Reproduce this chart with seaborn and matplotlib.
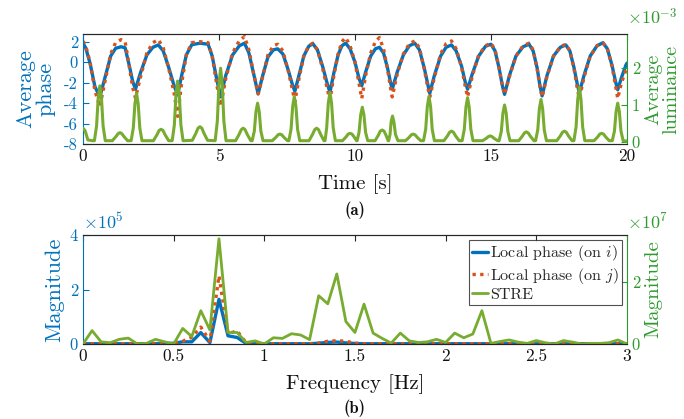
import matplotlib
matplotlib.use("Agg")
import matplotlib.pyplot as plt
import seaborn as sns

# ---------------- data ----------------
t_phase = [0.0, 0.1, 0.26, 0.44, 0.62, 0.8, 1.02, 1.2, 1.4, 1.55, 1.7, 1.83, 1.93,
           2.12, 2.35, 2.57, 2.77, 2.95, 3.15, 3.35, 3.48, 3.62, 3.8, 4.0, 4.3, 4.6,
           4.75, 4.92, 5.06, 5.25, 5.5, 5.75, 5.94, 6.1, 6.28, 6.44, 6.6, 6.8, 7.0, 7.16,
           7.35, 7.55, 7.7, 7.79, 7.95, 8.12, 8.3, 8.45, 8.62, 8.82, 8.98, 9.08,
           9.22, 9.38, 9.52, 9.66, 9.82, 10.0, 10.15, 10.25, 10.4, 10.58, 10.75, 10.9,
           11.05, 11.2, 11.3, 11.37, 11.55, 11.78, 12.0, 12.2, 12.37, 12.55, 12.68, 12.75,
           12.92, 13.15, 13.35, 13.55, 13.72, 13.92, 14.05, 14.14, 14.32, 14.55, 14.8, 15.0,
           15.15, 15.3, 15.42, 15.5, 15.68, 15.92, 16.18, 16.4, 16.55, 16.7, 16.8, 16.88,
           17.05, 17.3, 17.55, 17.75, 17.9, 18.05, 18.17, 18.25, 18.42, 18.65, 18.9, 19.12,
           19.28, 19.45, 19.58, 19.66, 19.8, 19.96, 20.0]

phase_i = [1.85, 1.4, -0.1, -2.4, -3.4, -1.6, 0.6, 1.35, 1.5, 1.4, -0.3, -1.9, -2.65,
           -1.0, 0.7, 1.45, 1.68, 1.1, -0.5, -2.3, -3.2, -1.4, 0.7, 1.7, 1.85, 1.75,
           0.6, -1.7, -3.4, -1.3, 0.7, 1.6, 1.85, 0.9, -1.2, -3.1, -1.4, 0.5, 1.2, 1.3,
           0.8, -0.8, -2.2, -2.85, -1.2, 0.6, 1.55, 1.8, 1.2, -0.5, -2.1, -2.95,
           -1.1, 0.7, 1.6, 1.85, 1.3, 0.0, -1.6, -2.3, -0.9, 0.6, 1.3, 1.45,
           0.9, -0.6, -1.9, -2.65, -1.0, 0.7, 1.6, 1.85, 1.2, -0.6, -2.2, -3.05,
           -1.3, 0.6, 1.45, 1.68, 1.1, -0.4, -1.9, -2.65, -1.1, 0.6, 1.55, 1.75,
           1.1, -0.6, -2.3, -3.15, -1.3, 0.6, 1.5, 1.75, 1.1, -0.6, -2.3, -3.3,
           -1.4, 0.6, 1.45, 1.68, 1.1, -0.5, -2.1, -3.0, -1.3, 0.6, 1.6, 1.9,
           1.3, -0.3, -1.9, -2.7, -1.5, -0.3, -0.1]

phase_j = [2.05, 1.6, 0.0, -2.8, -4.35, -2.0, 0.8, 1.9, 2.2, 2.0, -0.4, -2.5, -3.5,
           -1.4, 0.9, 1.9, 2.2, 1.4, -0.6, -3.0, -5.3, -2.2, 0.7, 1.9, 2.0, 1.9,
           0.6, -2.2, -4.3, -1.6, 0.9, 2.1, 2.5, 1.2, -1.2, -3.1, -1.5, 0.7, 1.6, 1.75,
           1.1, -0.9, -2.7, -3.85, -1.5, 0.6, 1.6, 1.85, 1.2, -0.7, -2.6, -3.7,
           -1.4, 0.8, 2.0, 2.4, 1.6, 0.0, -2.1, -3.55, -1.2, 0.9, 2.0, 2.4,
           1.3, -0.7, -2.4, -3.4, -1.2, 0.8, 1.8, 2.07, 1.4, -0.7, -2.5, -3.4,
           -1.5, 0.8, 1.8, 2.07, 1.3, -0.5, -2.3, -3.4, -1.3, 0.7, 1.6, 1.85,
           1.2, -0.6, -2.3, -3.15, -1.4, 0.6, 1.6, 1.85, 1.2, -0.7, -2.4, -3.4,
           -1.5, 0.6, 1.5, 1.75, 1.1, -0.6, -2.5, -3.55, -1.5, 0.6, 1.6, 1.85,
           1.3, -0.4, -2.3, -3.55, -2.0, -0.8, -0.5]

t_lum = [0.0, 0.08, 0.18, 0.35,
         0.42, 0.5, 0.56, 0.62, 0.68, 0.74, 0.82,
         1.08, 1.21, 1.29, 1.36, 1.43, 1.51, 1.64,
         1.77, 1.85, 1.91, 1.97, 2.03, 2.09, 2.17,
         2.59, 2.72, 2.8, 2.87, 2.94, 3.02, 3.15,
         3.28, 3.36, 3.42, 3.48, 3.54, 3.6, 3.68,
         4.02, 4.15, 4.23, 4.3, 4.37, 4.45, 4.58,
         4.86, 4.94, 5.0, 5.06, 5.12, 5.18, 5.26,
         5.61, 5.74, 5.82, 5.89, 5.96, 6.04, 6.17,
         6.22, 6.3, 6.36, 6.42, 6.48, 6.54, 6.62,
         6.96, 7.09, 7.17, 7.24, 7.31, 7.39, 7.52,
         7.57, 7.65, 7.71, 7.77, 7.83, 7.89, 7.97,
         8.31, 8.44, 8.52, 8.59, 8.66, 8.74, 8.86,
         8.9, 8.96, 9.02, 9.08, 9.14, 9.2, 9.28,
         9.54, 9.67, 9.75, 9.82, 9.89, 9.97, 10.06,
         10.08, 10.15, 10.21, 10.27, 10.33, 10.39, 10.47,
         10.74, 10.86, 10.93, 11.0, 11.07, 11.14, 11.22,
         11.24, 11.29, 11.33, 11.38, 11.43, 11.49, 11.58,
         11.86, 11.99, 12.07, 12.14, 12.21, 12.29, 12.42,
         12.52, 12.6, 12.66, 12.72, 12.78, 12.84, 12.92,
         13.27, 13.4, 13.48, 13.55, 13.62, 13.7, 13.83,
         13.94, 14.02, 14.08, 14.14, 14.2, 14.26, 14.34,
         14.69, 14.82, 14.9, 14.97, 15.04, 15.12, 15.25,
         15.3, 15.38, 15.44, 15.5, 15.56, 15.62, 15.7,
         16.02, 16.15, 16.23, 16.3, 16.37, 16.45, 16.58,
         16.64, 16.72, 16.78, 16.84, 16.9, 16.96, 17.04,
         17.42, 17.55, 17.63, 17.7, 17.77, 17.85, 17.98,
         18.05, 18.13, 18.19, 18.25, 18.31, 18.37, 18.45,
         18.79, 18.92, 19.0, 19.07, 19.14, 19.22, 19.35,
         19.46, 19.54, 19.6, 19.66, 19.72, 19.78, 19.86,
         20.0]

luminance_e3 = [0.37, 0.3, 0.05, 0.03,
                0.03, 0.43, 1.19, 1.52, 1.19, 0.43, 0.03,
                0.03, 0.14, 0.22, 0.25, 0.22, 0.14, 0.03,
                0.03, 0.37, 1.03, 1.32, 1.03, 0.37, 0.03,
                0.03, 0.19, 0.31, 0.34, 0.31, 0.19, 0.03,
                0.03, 0.46, 1.29, 1.65, 1.29, 0.46, 0.03,
                0.04, 0.23, 0.37, 0.41, 0.37, 0.23, 0.04,
                0.03, 0.56, 1.56, 2.0, 1.56, 0.56, 0.03,
                0.03, 0.2, 0.33, 0.37, 0.33, 0.2, 0.03,
                0.03, 0.29, 0.82, 1.05, 0.82, 0.29, 0.03,
                0.03, 0.12, 0.19, 0.21, 0.19, 0.12, 0.03,
                0.03, 0.34, 0.96, 1.23, 0.96, 0.34, 0.03,
                0.03, 0.2, 0.33, 0.37, 0.33, 0.2, 0.03,
                0.03, 0.38, 1.05, 1.34, 1.05, 0.38, 0.03,
                0.03, 0.13, 0.21, 0.23, 0.21, 0.13, 0.03,
                0.03, 0.26, 0.73, 0.94, 0.73, 0.26, 0.03,
                0.03, 0.18, 0.29, 0.32, 0.29, 0.18, 0.03,
                0.03, 0.2, 0.55, 0.7, 0.55, 0.2, 0.03,
                0.03, 0.12, 0.19, 0.21, 0.19, 0.12, 0.03,
                0.03, 0.34, 0.96, 1.23, 0.96, 0.34, 0.03,
                0.03, 0.16, 0.26, 0.29, 0.26, 0.16, 0.03,
                0.03, 0.34, 0.94, 1.2, 0.94, 0.34, 0.03,
                0.03, 0.09, 0.14, 0.16, 0.14, 0.09, 0.03,
                0.03, 0.28, 0.78, 1.0, 0.78, 0.28, 0.03,
                0.03, 0.15, 0.24, 0.27, 0.24, 0.15, 0.03,
                0.03, 0.32, 0.9, 1.15, 0.9, 0.32, 0.03,
                0.03, 0.16, 0.26, 0.29, 0.26, 0.16, 0.03,
                0.03, 0.41, 1.15, 1.48, 1.15, 0.41, 0.03,
                0.03, 0.13, 0.21, 0.23, 0.21, 0.13, 0.03,
                0.03, 0.29, 0.82, 1.05, 0.82, 0.29, 0.03,
                0.02]

freq = [0.0, 0.05, 0.1, 0.15, 0.2, 0.25, 0.3, 0.35, 0.4, 0.45, 0.5, 0.55, 0.6, 0.65,
        0.7, 0.75, 0.8, 0.85, 0.9, 0.95, 1.0, 1.05, 1.1, 1.15, 1.2, 1.25, 1.3, 1.35,
        1.4, 1.45, 1.5, 1.55, 1.6, 1.65, 1.7, 1.75, 1.8, 1.85, 1.9, 1.95, 2.0, 2.05,
        2.1, 2.15, 2.2, 2.25, 2.3, 2.35, 2.4, 2.45, 2.5, 2.55, 2.6, 2.65, 2.7, 2.75,
        2.8, 2.85, 2.9, 2.95, 3.0]

mag_i_e5 = [0.01, 0.01, 0.01, 0.01, 0.01, 0.01, 0.01, 0.01, 0.01, 0.01, 0.03, 0.08, 0.08, 0.42,
            0.05, 1.64, 0.3, 0.24, 0.02, 0.01, 0.01, 0.01, 0.01, 0.01, 0.01, 0.01, 0.03, 0.06,
            0.07, 0.04, 0.02, 0.01, 0.01, 0.01, 0.01, 0.01, 0.01, 0.01, 0.01, 0.01, 0.01, 0.01,
            0.01, 0.01, 0.01, 0.01, 0.01, 0.01, 0.01, 0.01, 0.01, 0.01, 0.01, 0.01, 0.01, 0.01,
            0.01, 0.01, 0.01, 0.01, 0.01]

mag_j_e5 = [0.01, 0.01, 0.01, 0.01, 0.01, 0.01, 0.01, 0.01, 0.01, 0.01, 0.03, 0.1, 0.25, 0.62,
            0.1, 2.5, 0.38, 0.48, 0.04, 0.01, 0.01, 0.01, 0.01, 0.01, 0.01, 0.01, 0.03, 0.1,
            0.12, 0.1, 0.03, 0.01, 0.01, 0.01, 0.01, 0.01, 0.01, 0.01, 0.01, 0.01, 0.01, 0.01,
            0.01, 0.01, 0.01, 0.01, 0.01, 0.01, 0.01, 0.01, 0.01, 0.01, 0.01, 0.01, 0.01, 0.01,
            0.01, 0.01, 0.01, 0.01, 0.01]

mag_stre_e7 = [0.0, 0.43, 0.07, 0.04, 0.15, 0.19, 0.0, 0.02, 0.15, 0.07, 0.0, 0.5, 0.24, 1.07,
               0.45, 3.38, 0.37, 0.37, 0.05, 0.1, 0.0, 0.2, 0.18, 0.33, 0.29, 0.14, 1.55, 1.29,
               2.25, 0.72, 0.37, 1.28, 0.35, 0.18, 0.03, 0.35, 0.1, 0.05, 0.07, 0.15, 0.05, 0.35,
               0.2, 0.32, 1.07, 0.02, 0.08, 0.13, 0.06, 0.02, 0.11, 0.04, 0.0, 0.11, 0.06, 0.0,
               0.02, 0.02, 0.04, 0.13, 0.0]

x_ticks_top = [0, 5, 10, 15, 20]
y_ticks_phase = [-8, -6, -4, -2, 0, 2]
y_ticks_lum = [0, 1, 2]
x_ticks_bottom = [0, 0.5, 1, 1.5, 2, 2.5, 3]
y_ticks_mag_left = [0, 2, 4]
y_ticks_mag_right = [0, 2]
legend_labels = [r"Local phase (on $i$)", r"Local phase (on $j$)", "STRE"]

# ---------------- style ----------------
sns.set_style("white")
plt.rcParams["font.family"] = ["cmr10", "DejaVu Serif"]
plt.rcParams["mathtext.fontset"] = "cm"
plt.rcParams["axes.formatter.use_mathtext"] = True
plt.rcParams["axes.unicode_minus"] = False

BLUE = "#0072BD"
ORANGE = "#D95319"
GREEN = "#77AC30"
AXGREEN = "#2E9A2E"
DARK = "#262626"

fig = plt.figure(figsize=(6.84, 4.19), dpi=100)
ax1 = fig.add_axes([0.1213, 0.6563, 0.7953, 0.2626])
ax3 = fig.add_axes([0.1213, 0.1790, 0.7953, 0.2601])


def style_pair(ax, axr):
    for a in (ax, axr):
        a.tick_params(direction="in", length=4, width=0.8, top=True)
        a.spines["top"].set_color(DARK)
        a.spines["bottom"].set_color(DARK)
        for s in a.spines.values():
            s.set_linewidth(0.8)
    ax.spines["right"].set_visible(False)
    axr.spines["left"].set_visible(False)
    ax.spines["left"].set_color(BLUE)
    axr.spines["right"].set_color(AXGREEN)
    ax.tick_params(axis="y", colors=BLUE, labelsize=12)
    axr.tick_params(axis="y", colors=AXGREEN, labelsize=12, right=True, left=False)
    ax.tick_params(axis="x", colors=DARK, labelcolor="#111111", labelsize=12.5)
    axr.tick_params(axis="x", top=False, bottom=False)


# ---------------- top panel ----------------
ax2 = ax1.twinx()
sns.lineplot(x=t_phase, y=phase_i, ax=ax1, color=BLUE, linewidth=2.4, sort=False)
sns.lineplot(x=t_phase, y=phase_j, ax=ax1, color=ORANGE, linewidth=2.4, sort=False)
ax1.lines[-1].set_dashes((1, 1.3))
ax1.lines[-1].set_dash_capstyle("butt")
sns.lineplot(x=t_lum, y=luminance_e3, ax=ax2, color=GREEN, linewidth=2.2, sort=False)

ax1.set_xlim(0, 20)
ax1.set_ylim(-8, 2.75)
ax2.set_ylim(-0.06, 2.93)
ax1.set_xticks(x_ticks_top)
ax1.set_xticklabels([str(v) for v in x_ticks_top])
ax1.set_yticks(y_ticks_phase)
ax1.set_yticklabels([str(v) for v in y_ticks_phase])
ax2.set_yticks(y_ticks_lum)
ax2.set_yticklabels([str(v) for v in y_ticks_lum])
style_pair(ax1, ax2)
ax1.set_xlabel("Time [s]", fontsize=15, color="#111111", labelpad=7)
ax1.set_ylabel("Average\nphase", fontsize=16, color=BLUE, labelpad=6, linespacing=1.05)
ax2.set_ylabel("Average\nluminance", fontsize=14.5, color=AXGREEN, labelpad=3, linespacing=1.0)
ax2.text(1.0, 1.06, r"$\times10^{-3}$", transform=ax2.transAxes, color=AXGREEN,
         fontsize=13, ha="left", va="bottom")
fig.text(0.5185, 0.499, "(a)", fontfamily="cmb10", fontsize=12, ha="center", va="center",
         color="#111111")

# ---------------- bottom panel ----------------
ax4 = ax3.twinx()
sns.lineplot(x=freq, y=mag_i_e5, ax=ax3, color=BLUE, linewidth=2.4, sort=False)
sns.lineplot(x=freq, y=mag_j_e5, ax=ax3, color=ORANGE, linewidth=2.4, sort=False)
ax3.lines[-1].set_dashes((1, 1.3))
ax3.lines[-1].set_dash_capstyle("butt")
sns.lineplot(x=freq, y=mag_stre_e7, ax=ax4, color=GREEN, linewidth=2.0, sort=False)

ax3.set_xlim(0, 3)
ax3.set_ylim(0, 4)
ax4.set_ylim(0, 3.5)
ax3.set_xticks(x_ticks_bottom)
ax3.set_xticklabels([f"{v:g}" for v in x_ticks_bottom])
ax3.set_yticks(y_ticks_mag_left)
ax3.set_yticklabels([str(v) for v in y_ticks_mag_left])
ax4.set_yticks(y_ticks_mag_right)
ax4.set_yticklabels([str(v) for v in y_ticks_mag_right])
style_pair(ax3, ax4)
ax3.set_xlabel("Frequency [Hz]", fontsize=15, color="#111111", labelpad=7)
ax3.set_ylabel("Magnitude", fontsize=16, color=BLUE, labelpad=4)
ax4.set_ylabel("Magnitude", fontsize=15, color=AXGREEN, labelpad=3)
ax3.text(0.0, 1.03, r"$\times10^{5}$", transform=ax3.transAxes, color=BLUE,
         fontsize=13, ha="left", va="bottom")
ax4.text(1.0, 1.03, r"$\times10^{7}$", transform=ax4.transAxes, color=AXGREEN,
         fontsize=13, ha="left", va="bottom")
fig.text(0.5185, 0.026, "(b)", fontfamily="cmb10", fontsize=12, ha="center", va="center",
         color="#111111")

handles = [ax3.lines[0], ax3.lines[1], ax4.lines[0]]
leg = ax4.legend(handles, legend_labels, loc="upper right", bbox_to_anchor=(0.991, 0.955),
                 borderaxespad=0, fontsize=11.5, handlelength=1.0, handletextpad=0.15,
                 borderpad=0.2, labelspacing=0.15, frameon=True, fancybox=False)
leg.get_frame().set_edgecolor(DARK)
leg.get_frame().set_linewidth(0.8)

fig.savefig("out.png", dpi=100)
